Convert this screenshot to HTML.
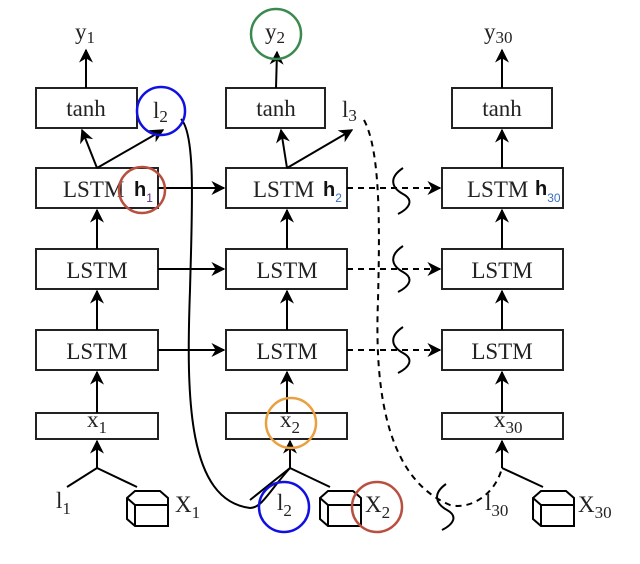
<!DOCTYPE html>
<html><head><meta charset="utf-8"><style>
html,body{margin:0;padding:0;background:#fff;}
svg{display:block;}
text{font-family:"Liberation Serif",serif;fill:#222;}
.b{font-family:"Liberation Sans",sans-serif;font-weight:bold;fill:#111;}
</style></head><body>
<svg width="640" height="564" viewBox="0 0 640 564" xmlns="http://www.w3.org/2000/svg">
<defs>
<marker id="A" viewBox="0 0 10 10" refX="9" refY="5" markerWidth="14" markerHeight="14" orient="auto" markerUnits="userSpaceOnUse">
<path d="M0,0 L10,5 L0,10 L3,5 z" fill="#000"/></marker>
</defs>
<g fill="none" stroke="#222" stroke-width="2">
<rect x="36" y="88" width="101" height="40"/>
<rect x="226" y="88" width="99" height="40"/>
<rect x="452" y="88" width="100" height="40"/>
<rect x="36" y="168" width="122" height="40"/>
<rect x="226" y="168" width="121" height="40"/>
<rect x="442" y="168" width="121" height="40"/>
<rect x="36" y="249" width="122" height="40"/>
<rect x="226" y="249" width="121" height="40"/>
<rect x="442" y="249" width="121" height="40"/>
<rect x="36" y="330" width="122" height="40"/>
<rect x="226" y="330" width="121" height="40"/>
<rect x="442" y="330" width="121" height="40"/>
<rect x="36" y="413" width="122" height="26"/>
<rect x="226" y="413" width="121" height="26"/>
<rect x="442" y="413" width="121" height="26"/>
</g>
<g stroke="#000" stroke-width="2" fill="none" marker-end="url(#A)">
<line x1="86" y1="88" x2="86" y2="50"/>
<line x1="276" y1="88" x2="277" y2="52"/>
<line x1="502" y1="88" x2="502" y2="50"/>
<line x1="97" y1="168" x2="82" y2="130"/>
<line x1="97" y1="168" x2="163" y2="130"/>
<line x1="287" y1="168" x2="281" y2="130"/>
<line x1="287" y1="168" x2="352" y2="130"/>
<line x1="502" y1="168" x2="502" y2="130"/>
<line x1="97" y1="249" x2="97" y2="210"/>
<line x1="287" y1="249" x2="287" y2="210"/>
<line x1="502" y1="249" x2="502" y2="210"/>
<line x1="97" y1="330" x2="97" y2="291"/>
<line x1="287" y1="330" x2="287" y2="291"/>
<line x1="502" y1="330" x2="502" y2="291"/>
<line x1="97" y1="413" x2="97" y2="372"/>
<line x1="287" y1="413" x2="287" y2="372"/>
<line x1="502" y1="413" x2="502" y2="372"/>
<line x1="97" y1="468" x2="97" y2="441"/>
<line x1="290" y1="468" x2="290" y2="441"/>
<line x1="502" y1="468" x2="502" y2="441"/>
<line x1="158" y1="188" x2="224" y2="188"/>
<line x1="158" y1="269" x2="224" y2="269"/>
<line x1="158" y1="350" x2="224" y2="350"/>
</g>
<g stroke="#000" stroke-width="2" fill="none" stroke-dasharray="6,5" marker-end="url(#A)">
<line x1="347" y1="188" x2="440" y2="188"/>
<line x1="347" y1="269" x2="440" y2="269"/>
<line x1="347" y1="350" x2="440" y2="350"/>
</g>
<g stroke="#000" stroke-width="2" fill="none">
<path d="M67,487 L97,468 L137,487"/>
<path d="M250,500 L290,468 L330,487"/>
<path d="M502,468 L543,487"/>
<path d="M181,119 C196,135 192,210 190,290 C186,400 188,500 250,508 C262,508 270,490 290,468"/>
<path d="M364,120 C380,150 380,220 378,300 C374,400 390,480 450,505 C470,510 495,495 502,468" stroke-dasharray="6,5"/>
<path d="M403,168 C388,178 392,188 403,194 C414,200 410,208 398,214"/>
<path d="M403,246 C388,256 392,266 403,272 C414,278 410,286 398,292"/>
<path d="M403,327 C388,337 392,347 403,353 C414,359 410,367 398,373"/>
<path d="M446,484 C432,494 436,504 447,510 C458,516 454,524 442,530"/>
</g>
<g stroke="#000" stroke-width="2" fill="#fff">
<path d="M127,498 L135,491 L160,491 L168,498 L168,526 L135,526 L127,519 Z"/>
<path d="M320,498 L328,491 L353,491 L361,498 L361,526 L328,526 L320,519 Z"/>
<path d="M533,498 L541,491 L566,491 L574,498 L574,526 L541,526 L533,519 Z"/>
</g>
<g stroke="#000" stroke-width="2" fill="none">
<path d="M127,498 L135,505 L168,505 M135,505 L135,526"/>
<path d="M320,498 L328,505 L361,505 M328,505 L328,526"/>
<path d="M533,498 L541,505 L574,505 M541,505 L541,526"/>
</g>
<g font-size="23">
<text x="86" y="116" text-anchor="middle">tanh</text>
<text x="276" y="116" text-anchor="middle">tanh</text>
<text x="502" y="116" text-anchor="middle">tanh</text>
<text x="63" y="197">LSTM</text>
<text x="253" y="197">LSTM</text>
<text x="467" y="197">LSTM</text>
<text x="97" y="278" text-anchor="middle">LSTM</text>
<text x="287" y="278" text-anchor="middle">LSTM</text>
<text x="502" y="278" text-anchor="middle">LSTM</text>
<text x="97" y="359" text-anchor="middle">LSTM</text>
<text x="287" y="359" text-anchor="middle">LSTM</text>
<text x="502" y="359" text-anchor="middle">LSTM</text>
<text x="75" y="39">y<tspan font-size="17" dy="4">1</tspan></text>
<text x="265" y="39">y<tspan font-size="17" dy="4">2</tspan></text>
<text x="484" y="39">y<tspan font-size="17" dy="4">30</tspan></text>
<text x="153" y="118">l<tspan font-size="17" dy="4">2</tspan></text>
<text x="342" y="117">l<tspan font-size="17" dy="4">3</tspan></text>
<text x="87" y="427">x<tspan font-size="17" dy="6">1</tspan></text>
<text x="280" y="427">x<tspan font-size="17" dy="6">2</tspan></text>
<text x="494" y="427">x<tspan font-size="17" dy="6">30</tspan></text>
<text x="56" y="508">l<tspan font-size="17" dy="6">1</tspan></text>
<text x="175" y="512">X<tspan font-size="17" dy="6">1</tspan></text>
<text x="277" y="510">l<tspan font-size="17" dy="6">2</tspan></text>
<text x="365" y="512">X<tspan font-size="17" dy="6">2</tspan></text>
<text x="485" y="510">l<tspan font-size="17" dy="6">30</tspan></text>
<text x="578" y="512">X<tspan font-size="17" dy="6">30</tspan></text>
</g>
<text class="b" x="134" y="196" font-size="20">h<tspan font-size="12" dy="6" fill="#5a2a8a" font-weight="normal">1</tspan></text>
<text class="b" x="323" y="196" font-size="20">h<tspan font-size="12" dy="6" fill="#3a6fc0" font-weight="normal">2</tspan></text>
<text class="b" x="535" y="195" font-size="20">h<tspan font-size="12" dy="7" fill="#3a6fc0" font-weight="normal">30</tspan></text>
<g fill="none" stroke-width="2.5">
<circle cx="161" cy="111" r="24" stroke="#1010e0"/>
<circle cx="276" cy="34" r="25" stroke="#3a8a50"/>
<circle cx="142" cy="190" r="23" stroke="#b85040"/>
<circle cx="291" cy="423" r="25" stroke="#e8a040"/>
<circle cx="284" cy="507" r="25" stroke="#1010e0"/>
<circle cx="377" cy="507" r="25" stroke="#b85040"/>
</g>
</svg>
</body></html>
